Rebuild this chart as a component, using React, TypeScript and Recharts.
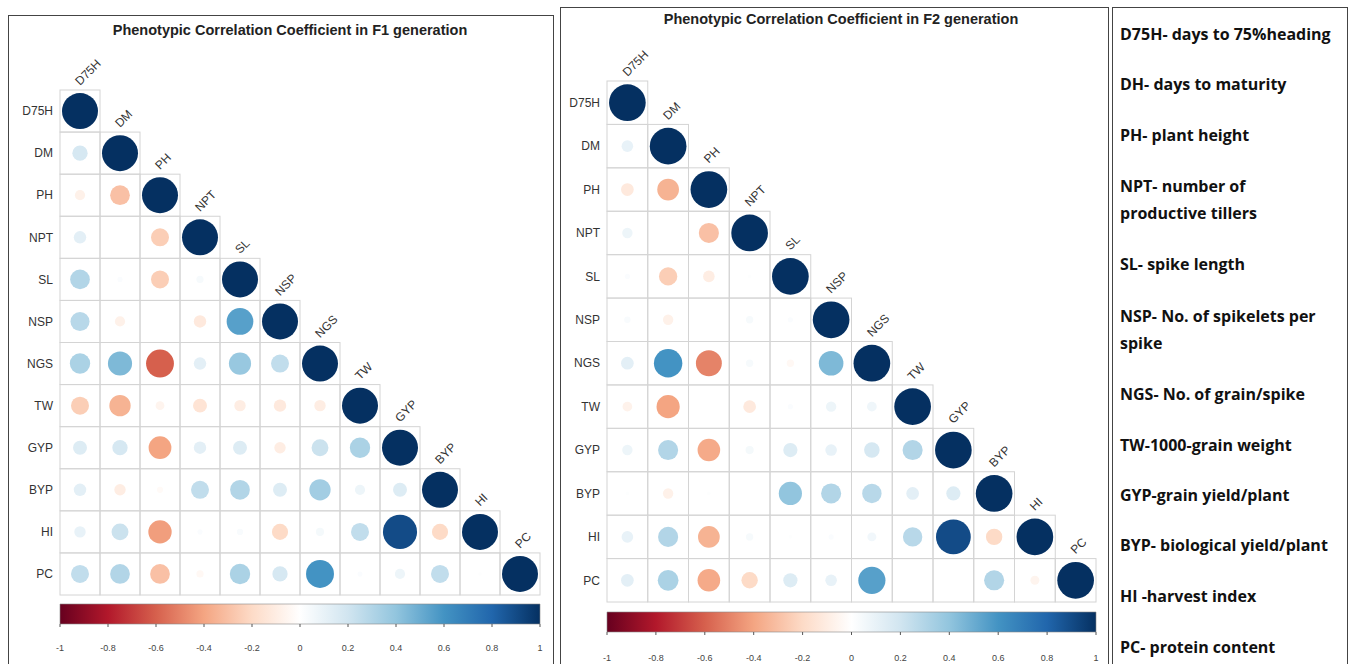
import React from "react";
import { ScatterChart, Scatter, XAxis, YAxis, ComposedChart, Bar } from "recharts";

const TRAITS = ["D75H", "DM", "PH", "NPT", "SL", "NSP", "NGS", "TW", "GYP", "BYP", "HI", "PC"];

// lower-triangle correlations (row i, columns 0..i-1); diagonal = 1
const F1_LOWER: number[][] = [
  [],
  [0.18],
  [-0.08, -0.3],
  [0.12, 0.0, -0.25],
  [0.3, 0.02, -0.25, 0.04],
  [0.28, -0.08, 0.0, -0.12, 0.55],
  [0.32, 0.45, -0.6, 0.12, 0.38, 0.25],
  [-0.25, -0.35, -0.06, -0.15, -0.1, -0.12, -0.1],
  [0.15, 0.18, -0.4, 0.12, 0.15, -0.1, 0.22, 0.32],
  [0.12, -0.1, -0.03, 0.25, 0.3, 0.15, 0.35, 0.08, 0.15],
  [0.1, 0.22, -0.42, 0.02, 0.03, -0.2, 0.05, 0.25, 0.9, -0.2],
  [0.25, 0.3, -0.3, -0.04, 0.32, 0.18, 0.6, 0.02, 0.08, 0.25, 0.01],
];

const F2_LOWER: number[][] = [
  [],
  [0.1],
  [-0.12, -0.35],
  [0.08, 0.0, -0.3],
  [0.02, -0.25, -0.1, 0.01],
  [0.03, -0.08, 0.0, 0.04, 0.02],
  [0.12, 0.6, -0.5, 0.04, -0.04, 0.45],
  [-0.07, -0.4, 0.0, -0.12, 0.02, 0.08, 0.07],
  [0.08, 0.3, -0.38, 0.05, 0.15, 0.1, 0.18, 0.3],
  [0.01, -0.08, 0.01, 0.0, 0.4, 0.3, 0.28, 0.12, 0.15],
  [0.1, 0.3, -0.35, 0.04, 0.01, 0.02, 0.06, 0.28, 0.9, -0.2],
  [0.12, 0.32, -0.38, -0.2, 0.15, 0.1, 0.55, 0.0, 0.0, 0.3, -0.06],
];

const COLORBAR_TICKS = [-1, -0.8, -0.6, -0.4, -0.2, 0, 0.2, 0.4, 0.6, 0.8, 1];

const TITLES = [
  "Phenotypic Correlation Coefficient in F1 generation",
  "Phenotypic Correlation Coefficient in F2 generation",
];

const LEGEND_ITEMS: string[][] = [
  ["D75H- days to 75%heading"],
  ["DH- days to maturity"],
  ["PH- plant height"],
  ["NPT- number of", "productive tillers"],
  ["SL- spike length"],
  ["NSP- No. of spikelets per", "spike"],
  ["NGS- No. of grain/spike"],
  ["TW-1000-grain weight"],
  ["GYP-grain yield/plant"],
  ["BYP- biological yield/plant"],
  ["HI -harvest index"],
  ["PC- protein content"],
];

const RDBU = ["#67001F", "#B2182B", "#D6604D", "#F4A582", "#FDDBC7", "#FFFFFF", "#D1E5F0", "#92C5DE", "#4393C3", "#2166AC", "#053061"];

function hexToRgb(h: string) {
  return [parseInt(h.slice(1, 3), 16), parseInt(h.slice(3, 5), 16), parseInt(h.slice(5, 7), 16)];
}
function colorFor(v: number) {
  const t = Math.max(0, Math.min(10, ((v + 1) / 2) * 10));
  const i = Math.min(9, Math.floor(t));
  const f = t - i;
  const a = hexToRgb(RDBU[i]);
  const b = hexToRgb(RDBU[i + 1]);
  const c = a.map((x, k) => Math.round(x + (b[k] - x) * f));
  return `rgb(${c[0]},${c[1]},${c[2]})`;
}

function buildPoints(lower: number[][]) {
  const pts: { x: number; y: number; v: number; diag: boolean }[] = [];
  lower.forEach((row, i) => {
    row.forEach((v, j) => pts.push({ x: j, y: i, v, diag: false }));
    pts.push({ x: i, y: i, v: 1, diag: true });
  });
  return pts;
}

const FONT = "'Liberation Sans', Arial, sans-serif";

function makeShape(cw: number, ch: number) {
  const maxR = cw * 0.45;
  return (props: any) => {
    const { cx, cy, payload } = props;
    const v = payload.v;
    const r = Math.sqrt(Math.abs(v)) * maxR;
    const lx = cx;
    const ly = cy - ch / 2 - 4;
    return (
      <g>
        <rect x={cx - cw / 2} y={cy - ch / 2} width={cw} height={ch} fill="none" stroke="#d4d4d4" strokeWidth={1} />
        {r > 0.5 && <circle cx={cx} cy={cy} r={r} fill={colorFor(v)} />}
        {payload.diag && (
          <text x={lx} y={ly} transform={`rotate(-45 ${lx} ${ly})`} fontSize={12} fill="#333" fontFamily={FONT}>
            {TRAITS[payload.y]}
          </text>
        )}
      </g>
    );
  };
}

type PanelProps = {
  lower: number[][];
  left: number;
  width: number;
  margin: { top: number; right: number; bottom: number; left: number };
  plotW: number;
  plotH: number;
};

function Matrix({ lower, left, width, margin, plotW, plotH }: PanelProps) {
  const pts = buildPoints(lower);
  const n = TRAITS.length;
  const ticks = TRAITS.map((_, i) => i);
  return (
    <div style={{ position: "absolute", left, top: 0 }}>
      <ScatterChart width={width} height={664} margin={margin}>
        <XAxis type="number" dataKey="x" domain={[-0.5, n - 0.5]} hide />
        <YAxis
          type="number"
          dataKey="y"
          domain={[-0.5, n - 0.5]}
          reversed
          ticks={ticks}
          interval={0}
          width={50}
          axisLine={false}
          tickLine={false}
          tickSize={0}
          tickMargin={7}
          tick={{ fontSize: 12, fill: "#333", fontFamily: FONT }}
          tickFormatter={(i: number) => TRAITS[i]}
        />
        <Scatter data={pts} isAnimationActive={false} shape={makeShape(plotW / n, plotH / n)} />
      </ScatterChart>
    </div>
  );
}

function ColorBar({ id, left, top, width, tickMargin }: { id: string; left: number; top: number; width: number; tickMargin: number }) {
  const data = [{ name: "r", range: [COLORBAR_TICKS[0], COLORBAR_TICKS[COLORBAR_TICKS.length - 1]] }];
  return (
    <div style={{ position: "absolute", left, top }}>
      <ComposedChart width={width} height={64} data={data} layout="vertical" barCategoryGap={0} margin={{ top: 8, right: 10, bottom: 0, left: 10 }}>
        <defs>
          <linearGradient id={id} x1="0" y1="0" x2="1" y2="0">
            {RDBU.map((c, k) => (
              <stop key={k} offset={`${k * 10}%`} stopColor={c} />
            ))}
          </linearGradient>
        </defs>
        <XAxis
          type="number"
          domain={[-1, 1]}
          ticks={COLORBAR_TICKS}
          interval={0}
          height={36}
          axisLine={false}
          tickSize={3}
          tickMargin={tickMargin}
          tickLine={{ stroke: "#555" }}
          tick={{ fontSize: 9, fill: "#444", fontFamily: FONT }}
          tickFormatter={(v: number) => String(Math.round(v * 10) / 10)}
        />
        <YAxis type="category" dataKey="name" hide />
        <Bar dataKey="range" fill={`url(#${id})`} stroke="#888" strokeWidth={0.6} isAnimationActive={false} />
      </ComposedChart>
    </div>
  );
}

const LEGEND_TOPS = [35, 85, 136, 187, 265, 317, 395, 446, 496, 546, 597, 648];

export default function App() {
  return (
    <div style={{ position: "fixed", left: 0, top: 0, width: 1349, height: 664, background: "#fff", overflow: "hidden", fontFamily: FONT }}>
      <div style={{ position: "absolute", left: 8, top: 15, width: 544, height: 700, border: "1px solid #444" }} />
      <div style={{ position: "absolute", left: 560, top: 7, width: 547, height: 700, border: "1px solid #444" }} />
      <div style={{ position: "absolute", left: 1112, top: 7, width: 234, height: 700, border: "1px solid #444" }} />

      <div style={{ position: "absolute", left: 40, width: 500, top: 21, textAlign: "center", fontSize: 14.5, fontWeight: 700, color: "#222", lineHeight: "18px" }}>
        {TITLES[0]}
      </div>
      <div style={{ position: "absolute", left: 591, width: 500, top: 10, textAlign: "center", fontSize: 14.5, fontWeight: 700, color: "#222", lineHeight: "18px" }}>
        {TITLES[1]}
      </div>

      <Matrix lower={F1_LOWER} left={0} width={560} margin={{ top: 90, right: 20, bottom: 69, left: 10 }} plotW={480} plotH={505} />
      <Matrix lower={F2_LOWER} left={550} width={560} margin={{ top: 81, right: 14, bottom: 62, left: 7 }} plotW={489} plotH={521} />

      <ColorBar id="cbar1" left={50} top={596} width={500} tickMargin={18} />
      <ColorBar id="cbar2" left={597} top={604} width={509} tickMargin={20} />

      {LEGEND_ITEMS.map((lines, k) => (
        <div key={k} style={{ position: "absolute", left: 1120, top: LEGEND_TOPS[k] - 14, fontFamily: "'Open Sans', Lato, sans-serif", fontWeight: 700, fontSize: 16, lineHeight: "27px", color: "#111", whiteSpace: "nowrap" }}>
          {lines.map((l, m) => (
            <div key={m}>{l}</div>
          ))}
        </div>
      ))}
    </div>
  );
}
